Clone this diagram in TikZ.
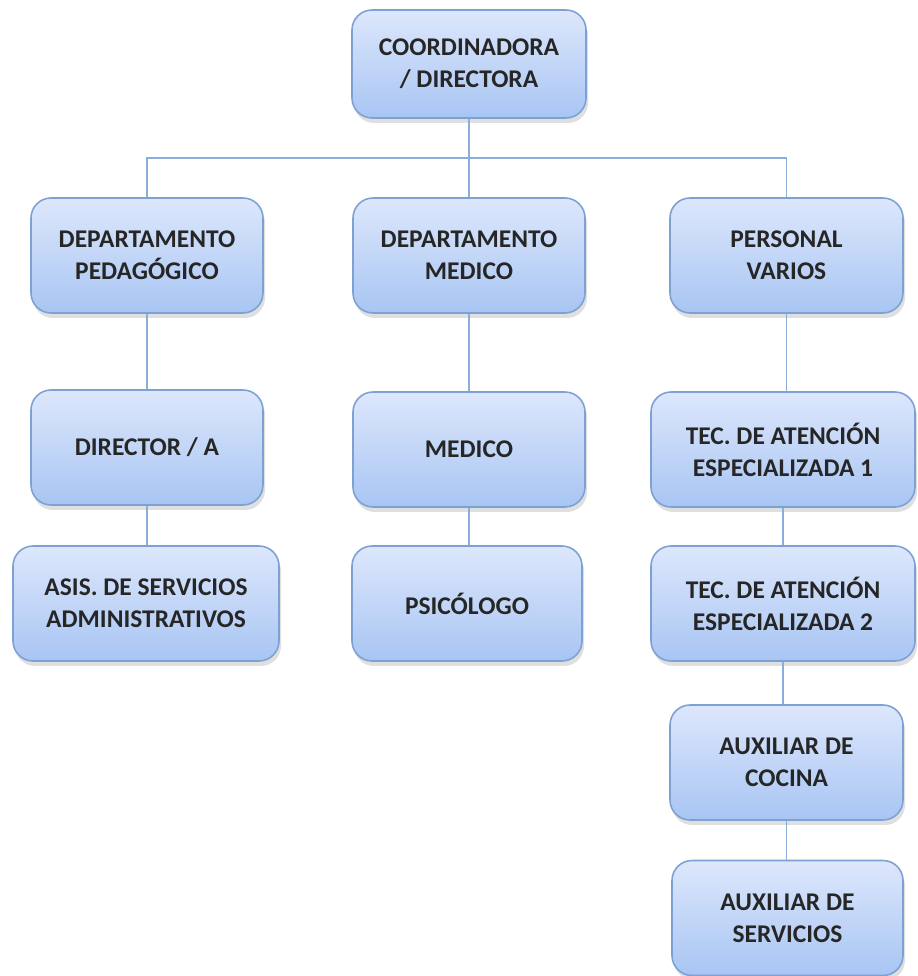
\documentclass[tikz,border=0pt]{standalone}
\usepackage{fontspec}
\setmainfont{Carlito}
\usetikzlibrary{shadows,positioning}
\definecolor{boxtop}{HTML}{DDE7FC}
\definecolor{boxbot}{HTML}{A8C5F3}
\definecolor{boxline}{HTML}{7EA1D4}
\definecolor{linkline}{HTML}{8AADDB}
\begin{document}
\begin{tikzpicture}
    [x=0.02cm,y=-0.02cm,
      orgbox/.style={rounded corners=0.4cm, draw=boxline, line width=0.9pt,
          top color=boxtop, bottom color=boxbot,
          drop shadow={opacity=0.25, shadow xshift=0.04cm, shadow yshift=-0.1cm},
          minimum width=#1*0.02cm, minimum height=2.3cm, align=center,
          font=\fontsize{14.5}{18.2}\selectfont\bfseries, text=black!85},
      orgbox/.default=232,
      link/.style={draw=linkline, line width=1.1pt},
    ]
    \useasboundingbox (0,0) rectangle (917,976);
    % top
    \node [orgbox=234, minimum height=2.16cm] (coord) at (469,64) {COORDINADORA\\/ DIRECTORA};
    % first row
    \node [orgbox] (pedag) at (147,255.5) {DEPARTAMENTO\\PEDAGÓGICO};
    \node [orgbox] (depmed) at (469,255.5) {DEPARTAMENTO\\MEDICO};
    \node [orgbox=233] (personal) at (786.5,255.5) {PERSONAL\\VARIOS};
    % second row
    \node [orgbox] (director) at (147,447.5) {DIRECTOR / A};
    \node [orgbox] (medico) at (469,449.5) {MEDICO};
    \node [orgbox=264] (tecuno) at (783,449.5) {TEC. DE ATENCIÓN\\ESPECIALIZADA 1};
    % third row
    \node [orgbox=266] (asis) at (146,603.5) {ASIS. DE SERVICIOS\\ADMINISTRATIVOS};
    \node [orgbox=230] (psico) at (467,603.5) {PSICÓLOGO};
    \node [orgbox=264] (tecdos) at (783,603.5) {TEC. DE ATENCIÓN\\ESPECIALIZADA 2};
    % personal column
    \node [orgbox=233] (auxcoc) at (786.5,762.5) {AUXILIAR DE\\COCINA};
    \node [orgbox=231] (auxserv) at (787.5,918) {AUXILIAR DE\\SERVICIOS};
    % links
    \coordinate (bus) at (469,158);
    \draw [link] (coord.south) -- (depmed.north);
    \draw [link] (pedag.north) -- (pedag.north |- bus) -- (personal.north |- bus) -- (personal.north);
    \draw [link] (pedag.south) -- (director.north);
    \draw [link] (director.south) -- (asis.north -| director.south);
    \draw [link] (depmed.south) -- (medico.north);
    \draw [link] (medico.south) -- (psico.north -| medico.south);
    \draw [link] (personal.south) -- (tecuno.north -| personal.south);
    \draw [link] (tecuno.south) -- (tecdos.north);
    \draw [link] (tecdos.south) -- (auxcoc.north -| tecdos.south);
    \draw [link] (auxcoc.south) -- (auxserv.north -| auxcoc.south);
  \end{tikzpicture}
\end{document}
